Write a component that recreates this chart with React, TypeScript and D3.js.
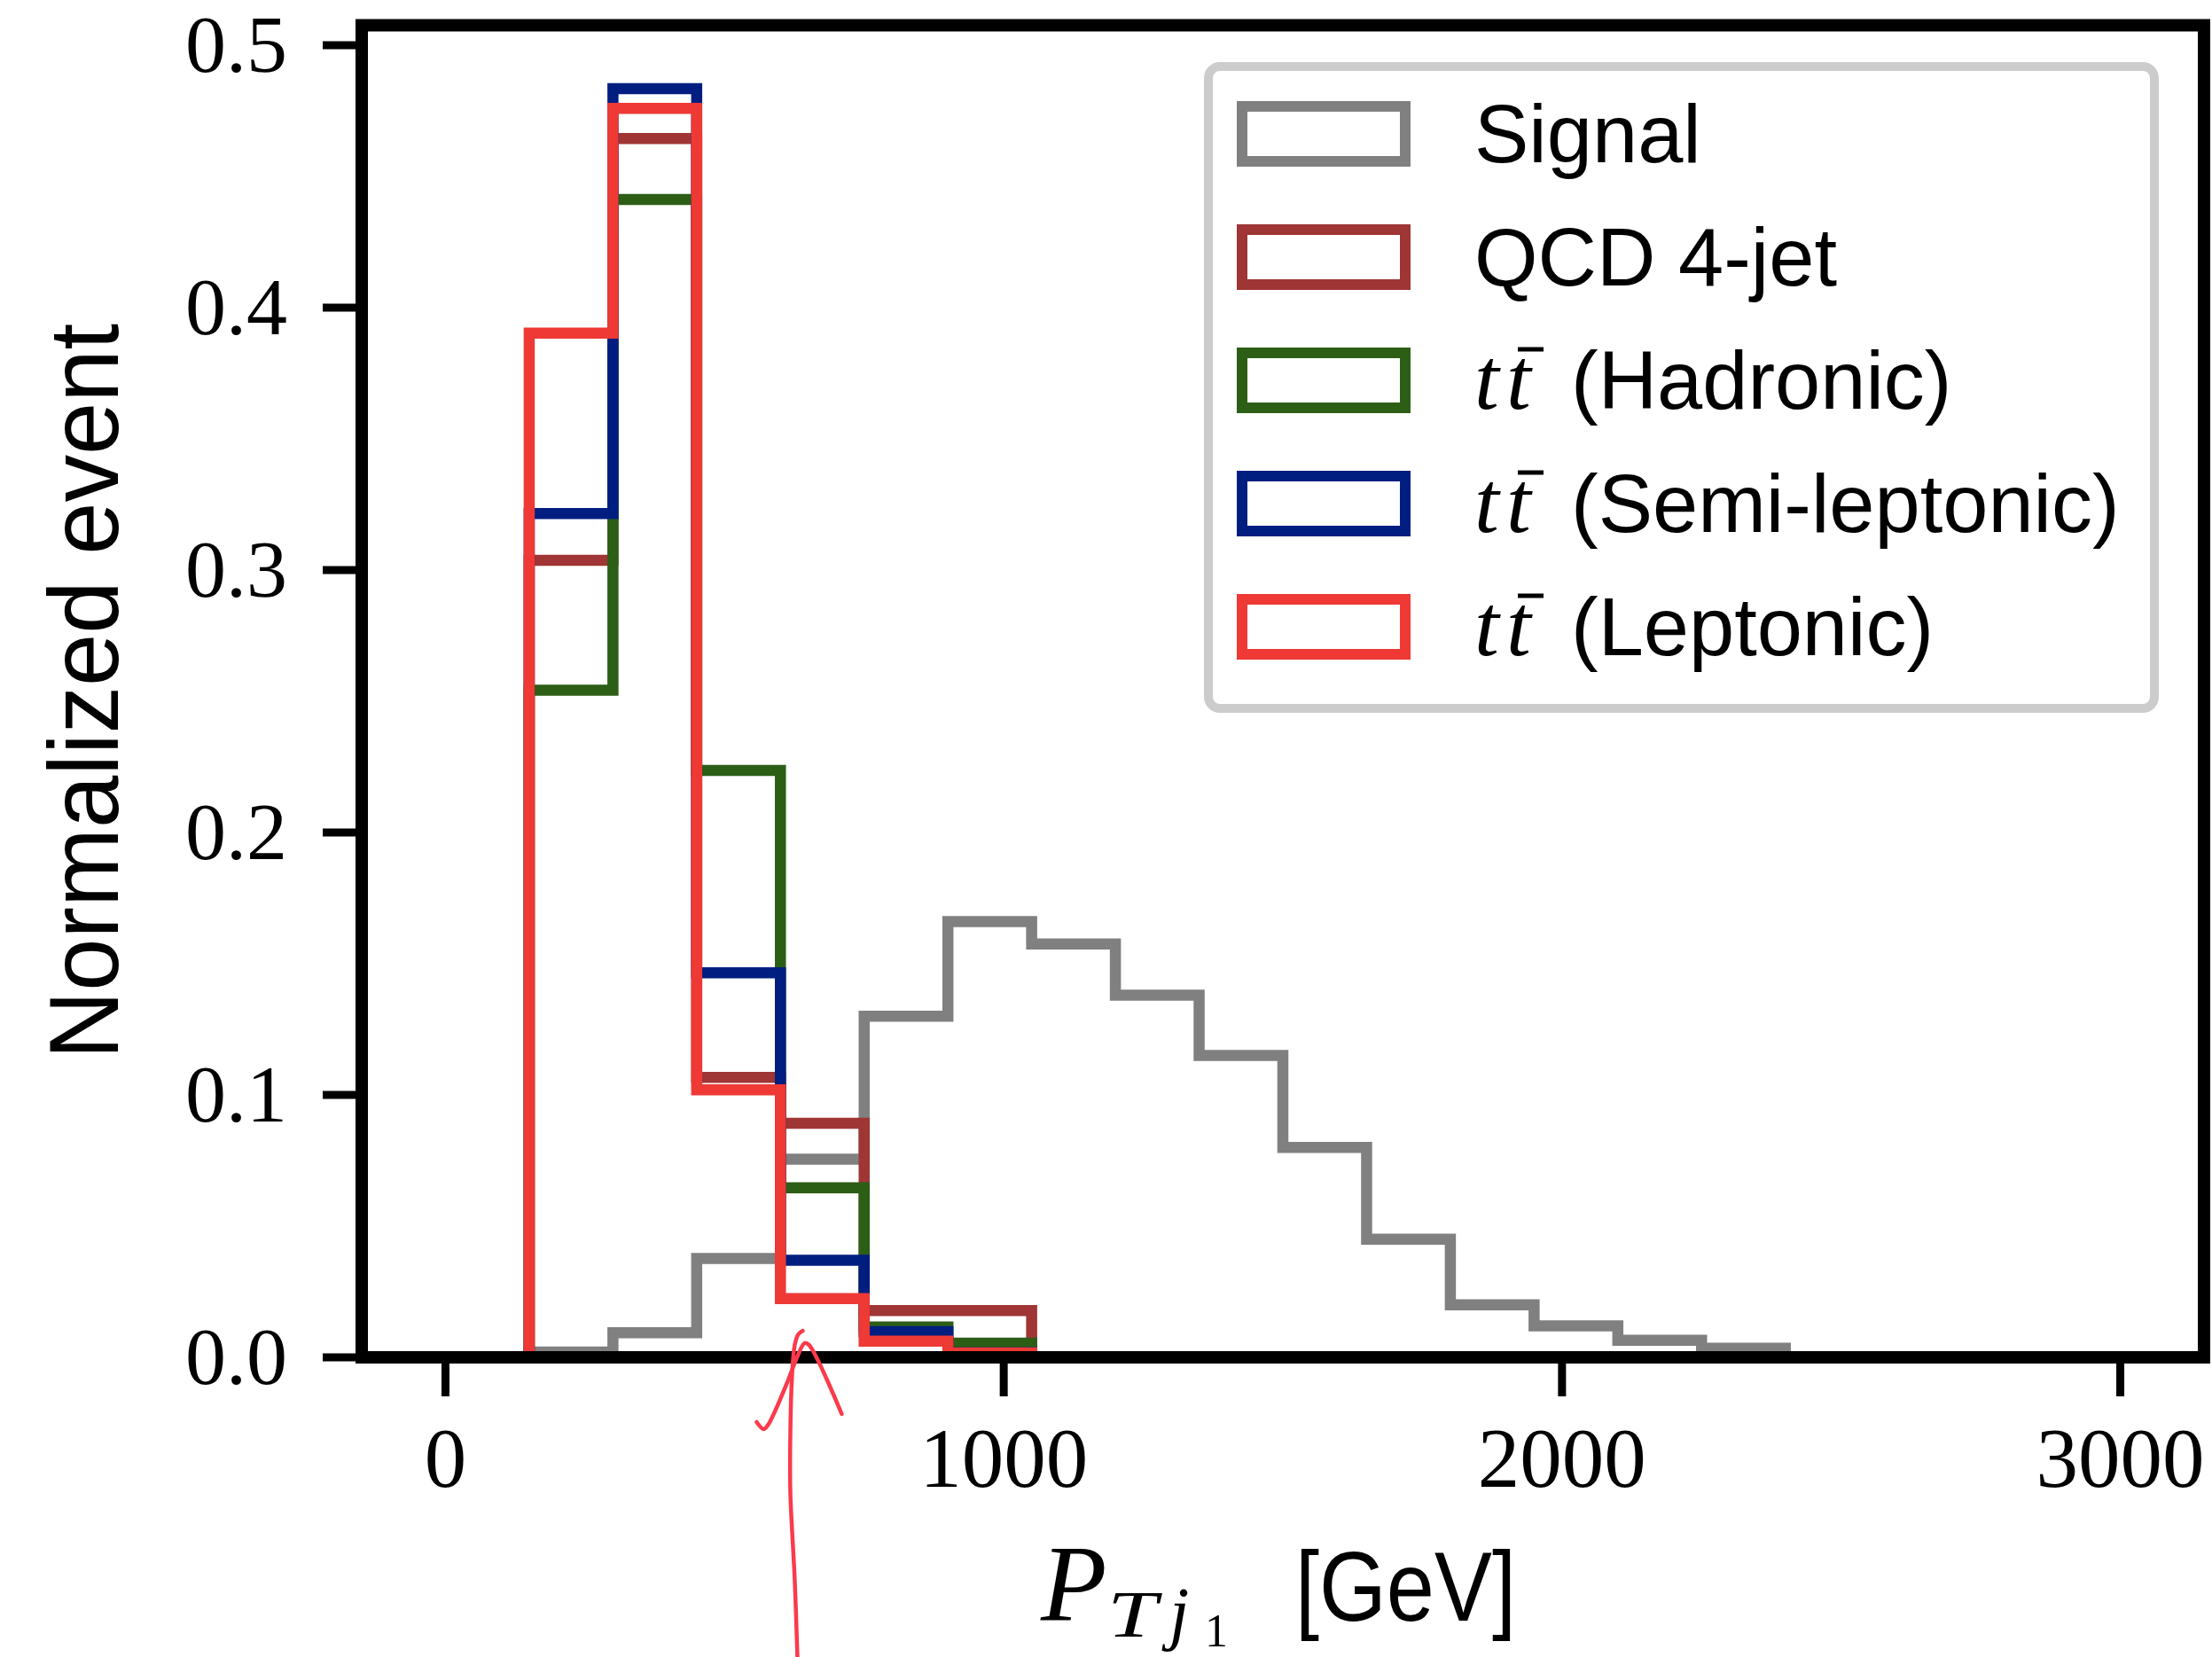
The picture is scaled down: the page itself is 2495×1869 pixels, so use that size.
import React from 'react';
import * as d3 from 'd3';

// ---------- data ----------
const BIN_START = 0;
const BIN_WIDTH = 150;
const BIN_COUNT = 20;
const X_DOMAIN = [-150, 3150];
const X_TICKS = [0, 1000, 2000, 3000];
const Y_TICKS = [0, 0.1, 0.2, 0.3, 0.4, 0.5];

const SERIES_NAMES = ['Signal', 'QCD 4-jet', 'Hadronic', 'Semi-leptonic', 'Leptonic'];
const SERIES_COLORS = ['#808080', '#9f3535', '#2d5e16', '#001e80', '#ee3935'];

const signal = [0, 0.002, 0.0094, 0.0377, 0.0755, 0.130, 0.166, 0.1575, 0.138, 0.115, 0.080, 0.045, 0.020, 0.012, 0.0065, 0.0035, 0, 0, 0, 0];
const qcd4jet = [0, 0.3037, 0.4644, 0.1067, 0.0892, 0.0178, 0.0178, 0, 0, 0, 0, 0, 0, 0, 0, 0, 0, 0, 0, 0];
const ttHadronic = [0, 0.2542, 0.4412, 0.2236, 0.0646, 0.0116, 0.0054, 0, 0, 0, 0, 0, 0, 0, 0, 0, 0, 0, 0, 0];
const ttSemiLeptonic = [0, 0.3215, 0.4834, 0.1465, 0.0370, 0.0098, 0.0018, 0, 0, 0, 0, 0, 0, 0, 0, 0, 0, 0, 0, 0];
const ttLeptonic = [0, 0.3903, 0.4759, 0.1019, 0.0224, 0.0062, 0.0017, 0, 0, 0, 0, 0, 0, 0, 0, 0, 0, 0, 0, 0];

const SERIES_VALUES = [signal, qcd4jet, ttHadronic, ttSemiLeptonic, ttLeptonic];
const LEGEND_TTBAR = [false, false, true, true, true];

// ---------- layout ----------
const W = 2495;
const H = 1869;
const PLOT = { left: 408, right: 2486, top: 28.5, bottom: 1531 };
const SERIF = '"Liberation Serif", "DejaVu Serif", serif';
const SANS = '"Liberation Sans", Arial, sans-serif';

const edges = d3.range(BIN_COUNT + 1).map((i) => BIN_START + i * BIN_WIDTH);
const yMax = (d3.max(SERIES_VALUES.flat()) as number) * 1.05;

const xScale = d3.scaleLinear().domain(X_DOMAIN).range([PLOT.left, PLOT.right]);
const yScale = d3.scaleLinear().domain([0, yMax]).range([PLOT.bottom, PLOT.top]);

function stepPoints(values: number[]): [number, number][] {
  const pts: [number, number][] = [[edges[0], 0]];
  values.forEach((v, i) => {
    pts.push([edges[i], v]);
    pts.push([edges[i + 1], v]);
  });
  pts.push([edges[edges.length - 1], 0]);
  return pts;
}

const stepLine = d3
  .line<[number, number]>()
  .x((d) => xScale(d[0]))
  .y((d) => yScale(d[1]));

// hand-drawn annotation arrow (overlay), offsets from an anchor in data coordinates
const ARROW_ANCHOR: [number, number] = [640, 0];
const ARROW_SHAFT: [number, number][] = [
  [-6, 338], [-9, 252], [-14, 152], [-14, 86], [-12, 19], [-9, -14], [-5, -26], [0, -30],
];
const ARROW_HEAD: [number, number][] = [
  [-52, 73], [-44, 81], [-39, 76], [-19, 32], [-6, -1], [2, -16], [7, -14], [44, 64],
];

export default function App() {
  const fmtY = d3.format('.1f');
  const fmtX = d3.format('d');
  const cx = (PLOT.left + PLOT.right) / 2;
  const cy = (PLOT.top + PLOT.bottom) / 2;

  const ax = xScale(ARROW_ANCHOR[0]);
  const ay = yScale(ARROW_ANCHOR[1]);
  const arrowLine = d3
    .line<[number, number]>()
    .x((d) => ax + d[0])
    .y((d) => ay + d[1])
    .curve(d3.curveCatmullRom);

  // legend layout
  const legend = { x: 1363, y: 75, w: 1067, h: 724 };
  const rowY0 = 151;
  const rowStep = 139;
  const handle = { x: 1401, w: 184, h: 62 };
  const textX = 1663;

  return (
    <svg
      width={W}
      height={H}
      viewBox={`0 0 ${W} ${H}`}
      style={{ position: 'absolute', left: 0, top: 0, background: '#fff' }}
    >
      <defs>
        <clipPath id="plotClip">
          <rect x={PLOT.left} y={PLOT.top} width={PLOT.right - PLOT.left} height={PLOT.bottom - PLOT.top} />
        </clipPath>
      </defs>
      <rect x={0} y={0} width={W} height={H} fill="#fff" />

      {/* histograms */}
      <g clipPath="url(#plotClip)">
        {SERIES_VALUES.map((vals, i) => (
          <path
            key={SERIES_NAMES[i]}
            d={stepLine(stepPoints(vals)) || ''}
            fill="none"
            stroke={SERIES_COLORS[i]}
            strokeWidth={12.5}
            strokeLinejoin="miter"
            strokeLinecap="butt"
          />
        ))}
      </g>

      {/* legend */}
      <g>
        <rect
          x={legend.x}
          y={legend.y}
          width={legend.w}
          height={legend.h}
          rx={13}
          fill="#fff"
          fillOpacity={0.8}
          stroke="#cccccc"
          strokeWidth={10}
        />
        {SERIES_NAMES.map((name, i) => {
          const yc = rowY0 + i * rowStep;
          return (
            <g key={name}>
              <rect
                x={handle.x}
                y={yc - handle.h / 2}
                width={handle.w}
                height={handle.h}
                fill="none"
                stroke={SERIES_COLORS[i]}
                strokeWidth={12}
              />
              {LEGEND_TTBAR[i] ? (
                <g>
                  <text x={textX} y={yc + 32} fontFamily={SERIF} fontStyle="italic" fontSize={100} fill="#000">
                    t
                  </text>
                  <text x={textX + 36} y={yc + 32} fontFamily={SERIF} fontStyle="italic" fontSize={100} fill="#000">
                    t
                  </text>
                  <line x1={textX + 49} x2={textX + 78} y1={yc - 35} y2={yc - 35} stroke="#000" strokeWidth={5} />
                  <text x={textX + 109} y={yc + 32} fontFamily={SANS} fontSize={92} fill="#000">
                    {`(${name})`}
                  </text>
                </g>
              ) : (
                <text x={textX} y={yc + 32} fontFamily={SANS} fontSize={92} fill="#000">
                  {name}
                </text>
              )}
            </g>
          );
        })}
      </g>

      {/* spines */}
      <rect
        x={PLOT.left}
        y={PLOT.top}
        width={PLOT.right - PLOT.left}
        height={PLOT.bottom - PLOT.top}
        fill="none"
        stroke="#000"
        strokeWidth={14}
      />

      {/* x ticks */}
      {X_TICKS.map((t) => (
        <g key={`xt${t}`}>
          <line x1={xScale(t)} x2={xScale(t)} y1={PLOT.bottom} y2={PLOT.bottom + 44} stroke="#000" strokeWidth={9} />
          <text x={xScale(t)} y={1677} textAnchor="middle" fontFamily={SERIF} fontSize={95} fill="#000">
            {fmtX(t)}
          </text>
        </g>
      ))}

      {/* y ticks */}
      {Y_TICKS.map((t) => (
        <g key={`yt${t}`}>
          <line x1={PLOT.left - 44} x2={PLOT.left} y1={yScale(t)} y2={yScale(t)} stroke="#000" strokeWidth={9} />
          <text x={324} y={yScale(t) + 30} textAnchor="end" fontFamily={SERIF} fontSize={92} fill="#000">
            {fmtY(t)}
          </text>
        </g>
      ))}

      {/* y label */}
      <text
        transform={`translate(133, ${cy}) rotate(-90)`}
        textAnchor="middle"
        fontFamily={SANS}
        fontSize={112}
        textLength={830}
        lengthAdjust="spacingAndGlyphs"
        fill="#000"
      >
        Normalized event
      </text>

      {/* x label: P_{T_{j_1}} [GeV] */}
      <g fill="#000">
        <text x={cx - 273} y={1828} fontFamily={SERIF} fontStyle="italic" fontSize={122}>
          P
        </text>
        <text
          x={cx - 198}
          y={1846}
          fontFamily={SERIF}
          fontStyle="italic"
          fontSize={74}
          textLength={56}
          lengthAdjust="spacingAndGlyphs"
        >
          T
        </text>
        <text x={cx - 128} y={1846} fontFamily={SERIF} fontStyle="italic" fontSize={80}>
          j
        </text>
        <text x={cx - 88} y={1857} fontFamily={SERIF} fontSize={52}>
          1
        </text>
        <text
          x={cx + 14}
          y={1828}
          fontFamily={SANS}
          fontSize={112}
          textLength={249}
          lengthAdjust="spacingAndGlyphs"
        >
          [GeV]
        </text>
      </g>

      {/* hand-drawn annotation arrow */}
      <g fill="none" stroke="#fb3a4b" strokeWidth={4.5} strokeLinecap="round" strokeLinejoin="round">
        <path d={arrowLine(ARROW_SHAFT) || ''} />
        <path d={arrowLine(ARROW_HEAD) || ''} />
      </g>
    </svg>
  );
}
